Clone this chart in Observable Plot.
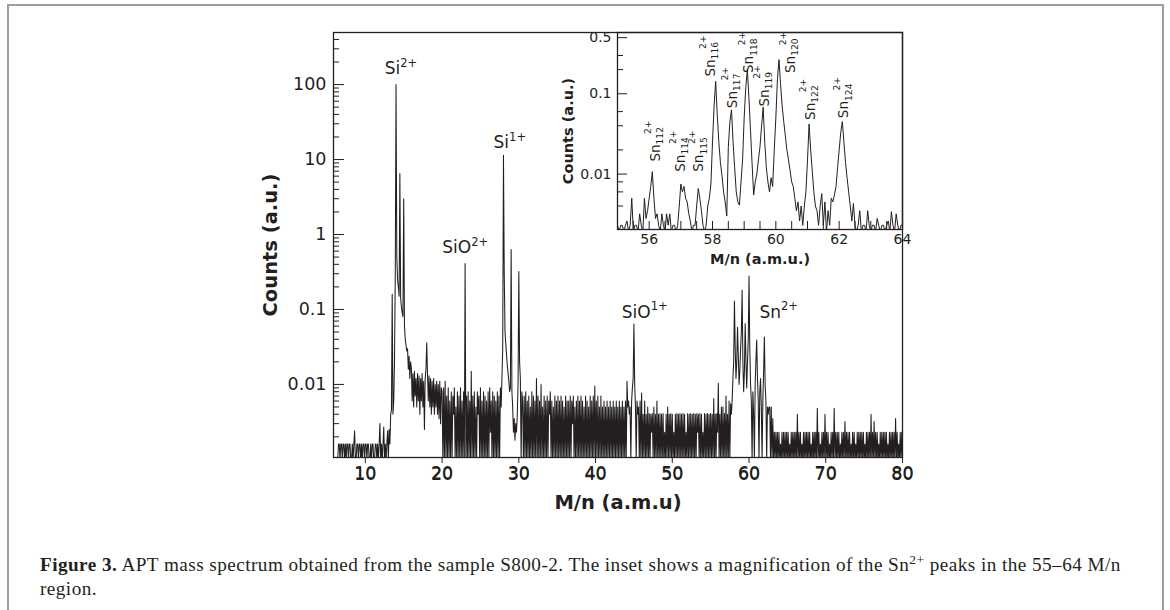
<!DOCTYPE html>
<html>
<head>
<meta charset="utf-8">
<script src="https://cdn.jsdelivr.net/npm/d3@7"></script>
<script src="https://cdn.jsdelivr.net/npm/@observablehq/plot@0.6"></script>
<style>
  html, body { margin: 0; padding: 0; background: #fff; width: 1170px; height: 610px; overflow: hidden; }
  #border { position: absolute; left: 7px; top: 4px; width: 1157px; height: 700px; border: 2px solid #9d9d9d; box-sizing: border-box; }
  #main { position: absolute; left: 0; top: 0; }
  #inset { position: absolute; left: 540px; top: 0; }
  #caption { position: absolute; left: 40px; top: 553px; font-family: "Liberation Serif", "DejaVu Serif", serif; font-size: 19.2px; letter-spacing: 0.45px; line-height: 24px; color: #231f20; white-space: nowrap; }
  #caption .sup { font-size: 0.7em; vertical-align: 0.55em; line-height: 0; }
</style>
</head>
<body>
<div id="border"></div>
<div id="main"></div>
<div id="inset"></div>
<div id="caption"><b>Figure 3.</b> APT mass spectrum obtained from the sample S800-2. The inset shows a magnification of the Sn<span class="sup">2+</span> peaks in the 55–64 M/n<br>region.</div>
<script>
// ---------------- DATA ----------------
// Main spectrum: counts (a.u.) sampled every 0.1 M/n; 0 = empty bin
const MAIN_STEP = 0.1;
const main_from_6_0 = [0,0,0,0,0,
 .0016,.0016,0,.0016,.0016,0,.0016,.0016,0,.0016,0,.0016,.0016,0,.0016,.0016,
 0,0,.0016,0,.0016,.0024,0,0,
 .0016,.0016,0,.0016,.0016,0,.0016,0,.0016,.0016,0,.0016,.0016,0,.0016,.0016,
 0,0,.0016,0,.0016,.0016,0,0,
 .0016,.0016,0,.0016,0,.0016,.003,0,.0016,0,.0016,.0027,0,.0016,
 0,.0016,.0024,0,.0025,.0016,.004,.0045];
const main_from_13_5 = [.16,.004,.006,.02,.3,100,.5,.25,.2,.15,6.5,.14,.11,.09,.08,3.0,.06,.04,.033,.028,.03,.016,.024,.012,.02,
 .016,.006,.014,.005,.015,.007,.012,.005,.014,.006,.013,.004,.012,.006,.014,.005,.011,.0025,.012,.016,
 .036,.014,.006,.013,.005,.012,.004,.011,.005,.012,.004,.01,.005,.011,.004,.01,.0035,.011,.003,.009];
const main_from_20_0 = [
 .008,0,.009,0,.011,0,.007,0,.009,0,
 .006,0,.008,0,.007,.004,.009,0,.005,0,
 .008,0,.007,0,.009,0,.006,0,.008,0,
 .41,0,.007,0,.008,0,.006,0,.015,0,
 .007,0,.008,0,.005,0,.008,.004,.007,0,
 .009,0,.006,0,.008,0,.007,0,.006,0,
 .008,0,.009,.0023,.006,0,.008,0,.007,0,
 .006,0,.008,0,.007,0,.009,.005];
const main_from_27_8 = [.012,.03,11.4,.3,.05,.035,.025,.018,.014,.011,.008,.009,.63,.008,.005,.0023,.0035,.0018,.003,.0023,.004,.01,.32,.02,.012,0,.008];
const main_from_30_5 = [
 .006,0,.007,0,.008,0,.006,0,.007,0,
 .005,0,.008,0,.007,0,.006,0,.012,0,
 .007,0,.006,0,.01,0,.005,0,.007,0,
 .006,0,.007,0,.006,.004,.008,0,.006,0,
 .005,0,.007,0,.006,0,.007,0,.006,0,
 .007,0,.006,0,.005,0,.007,0,.006,0,
 .006,0,.007,0,.006,.003,.007,0,.005,0,
 .006,0,.007,0,.006,0,.007,0,.006,0,
 .005,0,.007,0,.006,0,.005,0,.007,0,
 .006,0,.007,0,.0095,0,.006,0,.007,0,
 .005,0,.007,0,.005,0,.006,0,.005,0,
 .006,0,.005,0,.006,0,.005,0,.006,0,
 .005,0,.006,0,.005,0,.006,0,.005,0,
 .006,0,.005,0,.006,0,.011,.005,.006,.004];
const main_from_44_5 = [.005,0,.006,.009,.012,.064,.01,.005,0,.006,.004];
const main_from_45_6 = [
 .005,0,.006,0,.0077,0,.004,0,.006,0,
 .004,0,.005,0,.0041,0,.004,.0023,.0041,0,
 .005,0,.004,0,.006,0,.004,0,.0041,0,
 .004,0,.0041,0,.0023,0,.004,0,.005,0,
 .004,0,.0041,0,.004,0,.0023,0,.004,0,
 .0041,0,.004,0,.0041,0,.004,0,.0041,0,
 .004,0,.0023,0,.0041,0,.004,0,.0041,0,
 .004,0,.0041,0,.004,0,.0041,.0023,.004,0,
 .0041,0,.004,0,.0023,0,.0041,0,.004,0,
 .0041,0,.004,0,.0041,0,.004,0,.0065,0,
 .004,0,.0041,.0023,.0104,0,.004,0,.005,0,
 .005,0,.0041,0,.007,0,.004,0,.006,0,
 .0055,.004];
const main_from_57_8 = [.006,.012,.02,.13,.03,.012,.02,.058,.025,.01,.015,.03,.05,.18,.02,.008,.015,.065,.02,.009,
 .02,.04,.28,.03,.01,.006,0,.008,.004,0,.01,.021,.039,.012,.006,0,.008,.012,.005,0,
 .006,.015,.043,.01,.006,0,.005,.004,.005];
const main_from_62_7 = [
 .005,0,.005,0,.0035,0,.0023,0,.0023,0,
 .0023,0,.0023,0,.0016,0,.0023,0,.0023,0,
 .0023,0,.0023,0,.0023,0,.0016,0,.0023,0,
 .0023,0,.0023,0,.0023,0,.004,0,.0023,0,
 .0023,0,.0016,0,.0023,0,.0023,0,.0023,0,
 .0023,0,.0023,0,.0016,0,.0023,0,.0023,0,
 .0023,0,.0048,0,.0023,0,.0016,0,.0023,0,
 .0023,0,.004,0,.0023,0,.0023,0,.0016,0,
 .0023,0,.0023,0,.0048,0,.0023,0,.0023,0,
 .0023,0,.0016,0,.0023,0,.0023,0,.0032,0,
 .0023,0,.0023,0,.0023,0,.0016,0,.0023,0,
 .0023,0,.0016,0,.0023,0,.0023,0,.0023,0,
 .0023,0,.0023,0,.0016,0,.0023,0,.0023,0,
 .0023,0,.004,0,.0023,0,.0032,0,.0023,0,
 .0023,0,.0016,0,.0023,0,.0023,0,.0023,0,
 .0023,0,.0023,0,.0016,0,.0023,0,.0023,0,
 .0023,0,.0023,0,.0035,0,.0023,0,.0016,0,
 .0023,0,.0023,0];
const mainSegments = [
  [6.0, main_from_6_0], [13.5, main_from_13_5], [20.0, main_from_20_0], [27.8, main_from_27_8],
  [30.5, main_from_30_5], [44.5, main_from_44_5], [45.6, main_from_45_6], [57.8, main_from_57_8], [62.7, main_from_62_7]
];

// Inset spectrum (Sn2+ region): counts (a.u.) sampled every 0.05 M/n
const INSET_STEP = 0.05;
const inset_from_55 = [.0023,0,.0023,.0023,0,.0023,.0026,0,.0023,.005,0,.0023,.0023,0,.0032,.0023,0,.005,.0028,.0035];
const inset_from_56 = [.005,.007,.0107,.005,.0028,.0032,.0023,0,.0032,.0023,0,.0032,.0023,.0032,0,.0023,.0023,0,.0023,.004];
const inset_from_57 = [.0075,.006,.007,.005,.0045,.0032,.0026,0,.0023,.0023,.004,.0066,.005,.0035,.0023,0,.0023,.004,.005,.0075];
const inset_from_58 = [.025,.07,.143,.055,.025,.014,.0095,.006,.0045,.003,.022,.045,.063,.025,.012,.006,.0045,.0041,.008,.015];
const inset_from_59 = [.05,.12,.2,.09,.035,.0135,.0055,.008,.01,.015,.022,.04,.068,.025,.012,.008,.006,.009,.007,.02];
const inset_from_60 = [.05,.15,.266,.13,.07,.045,.03,.02,.015,.011,.008,.007,.005,.0035,.0045,.0026,.004,.0023,.004,.006];
const inset_from_61 = [.015,.042,.02,.011,.006,.004,.0035,.0023,.004,.0057,.0023,.0045,0,.0035,.0023,.005,.0045,.0055,.007,.012];
const inset_from_62 = [.02,.033,.045,.025,.014,.009,.006,.004,.0026,.0043,.0023,0,.0023,.0035,0,.0023,.0023,0,.0035,.0023];
const inset_from_63 = [0,.0023,.0023,0,.0028,.0023,0,.0023,.0023,0,.0023,.0026,0,.0034,.0023,0,.0032,.0023,0,.0023,.0023];
const insetSegments = [[55, inset_from_55], [56, inset_from_56], [57, inset_from_57], [58, inset_from_58], [59, inset_from_59],
  [60, inset_from_60], [61, inset_from_61], [62, inset_from_62], [63, inset_from_63]];

// Peak labels
const mainLabelText = ["Si^{2+}", "Si^{1+}", "SiO^{2+}", "SiO^{1+}", "Sn^{2+}"];
const mainLabelX = [14.64, 28.83, 23.02, 46.41, 63.87];
const mainLabelY = [164, 16.6, 0.677, 0.092, 0.092];
const insetLabelMass = ["112", "114", "115", "116", "117", "118", "119", "120", "122", "124"];
const insetLabelX = [56.20, 56.99, 57.57, 57.93, 58.63, 59.15, 59.64, 60.46, 61.09, 62.15];
const insetLabelY = [0.0143, 0.0107, 0.0107, 0.164, 0.0662, 0.1815, 0.0695, 0.1815, 0.0473, 0.0497];

// Ticks
const mainXTicks = [10, 20, 30, 40, 50, 60, 70, 80];
const mainYTicks = [0.01, 0.1, 1, 10, 100];
const insetXTicks = [56, 58, 60, 62, 64];
const insetYTicks = [0.01, 0.1, 0.5];
const insetYMinor = [0.004, 0.006, 0.008, 0.02, 0.04, 0.06, 0.2, 0.3];

// ---------------- BUILD ----------------
const INK = "#231f20";
// empty bins are drawn just below each axis floor (and clipped)
function table(segments, step, empty) {
  const rows = [];
  for (const [start, vals] of segments) vals.forEach((v, i) => rows.push({x: +(start + i * step).toFixed(3), y: v > 0 ? v : empty}));
  return rows;
}
const mainData = table(mainSegments, MAIN_STEP, 0.00098);
const insetData = table(insetSegments, INSET_STEP, 0.00192);

const mainYMinor = [];
for (const dec of [0.001, 0.01, 0.1, 1, 10, 100]) for (let k = 2; k <= 9; k++) { const v = +(k * dec).toPrecision(3); if (v > 0.00106 && v < 495) mainYMinor.push(v); }
const insetXMinor = d3.range(55, 64.01, 0.5);

const mainLabels = mainLabelText.map((t, i) => ({t, x: mainLabelX[i], y: mainLabelY[i]}));
const insetLabels = insetLabelMass.map((m, i) => ({t: `Sn_{${m}}^{2+}`, x: insetLabelX[i], y: insetLabelY[i]}));

const mainPlot = Plot.plot({
  width: 1170, height: 520,
  marginLeft: 333, marginRight: 268, marginTop: 32, marginBottom: 63,
  style: {fontFamily: "DejaVu Sans", fontSize: "17.5px", color: INK, background: "transparent", overflow: "visible"},
  x: {domain: [5.85, 80], label: null},
  y: {type: "log", domain: [0.00106, 495], label: null},
  marks: [
    Plot.line(mainData, {x: "x", y: "y", stroke: INK, strokeWidth: 1.05, clip: true}),
    Plot.frame({stroke: INK, strokeWidth: 1.3}),
    Plot.axisY(mainYMinor, {tickSize: 6, dx: 6, tickFormat: () => "", label: null}),
    Plot.axisY(mainYTicks, {tickSize: 11, dx: 11, tickFormat: () => "", label: null}),
    Plot.text(mainYTicks, {y: d => d, text: d => String(d), frameAnchor: "left", textAnchor: "end", dx: -7, fontSize: 17.5, fill: INK}),
    Plot.text(mainXTicks, {x: d => d, text: d => String(d), frameAnchor: "bottom", lineAnchor: "top", dy: 10, fontSize: 17.5, fill: INK}),
    Plot.text(["Counts (a.u.)"], {text: d => d, frameAnchor: "left", textAnchor: "middle", lineAnchor: "middle", dx: -63, rotate: -90, fontSize: 19.5, fontWeight: "bold", fill: INK}),
    Plot.text(["M/n (a.m.u)"], {text: d => d, frameAnchor: "bottom", textAnchor: "middle", lineAnchor: "middle", dy: 45, fontSize: 19.5, fontWeight: "bold", fill: INK}),
    Plot.text(mainLabels, {x: "x", y: "y", text: "t", fontSize: 17, fill: INK})
  ]
});
document.getElementById("main").append(mainPlot);

const insetPlot = Plot.plot({
  width: 380, height: 275,
  marginLeft: 77, marginRight: 18, marginTop: 32, marginBottom: 46,
  style: {fontFamily: "DejaVu Sans", fontSize: "14px", color: INK, background: "transparent", overflow: "visible"},
  x: {domain: [55, 64], label: null},
  y: {type: "log", domain: [0.00204, 0.58], label: null},
  marks: [
    Plot.line(insetData, {x: "x", y: "y", stroke: INK, strokeWidth: 1, clip: true}),
    Plot.frame({stroke: INK, strokeWidth: 1.3}),
    Plot.axisY(insetYMinor, {tickSize: 6, dx: 6, tickFormat: () => "", label: null}),
    Plot.axisY(insetYTicks, {tickSize: 10, dx: 10, tickFormat: () => "", label: null}),
    Plot.text(insetYTicks, {y: d => d, text: d => String(d), frameAnchor: "left", textAnchor: "end", dx: -6, fontSize: 14, fill: INK}),
    Plot.axisX(insetXMinor, {tickSize: 8, dy: -8, tickFormat: () => "", label: null}),
    Plot.text(insetXTicks, {x: d => d, text: d => String(d), frameAnchor: "bottom", lineAnchor: "top", dy: 5, fontSize: 14, fill: INK}),
    Plot.text(["Counts (a.u.)"], {text: d => d, frameAnchor: "left", textAnchor: "middle", lineAnchor: "middle", dx: -49, rotate: -90, fontSize: 14.5, fontWeight: "bold", fill: INK}),
    Plot.text(["M/n (a.m.u.)"], {text: d => d, frameAnchor: "bottom", textAnchor: "middle", lineAnchor: "middle", dy: 30, fontSize: 14.5, fontWeight: "bold", fill: INK}),
    Plot.text(insetLabels, {x: "x", y: "y", text: "t", rotate: -90, textAnchor: "start", fontSize: 13.5, fill: INK})
  ]
});
document.getElementById("inset").append(insetPlot);

// Render "_{sub}" and "^{sup}" markup as real SVG sub/superscripts
function richText(svg) {
  const ns = "http://www.w3.org/2000/svg";
  svg.querySelectorAll("text").forEach(t => {
    const s = t.textContent;
    const m = s.match(/^([^_^]*)(?:_\{([^}]*)\})?(?:\^\{([^}]*)\})?$/);
    if (!m || (!m[2] && !m[3])) return;
    const [, base, sub, sup] = m;
    let dy0 = t.getAttribute("dy");
    const first = t.querySelector("tspan");
    if (first && first.getAttribute("dy")) dy0 = first.getAttribute("dy");
    const fs = parseFloat(getComputedStyle(t).fontSize);
    while (t.firstChild) t.removeChild(t.firstChild);
    if (dy0) t.setAttribute("dy", dy0);
    const mk = (txt, attrs) => { const e = document.createElementNS(ns, "tspan"); e.textContent = txt; for (const k in attrs) e.setAttribute(k, attrs[k]); t.appendChild(e); return e; };
    mk(base, {});
    const small = fs * 0.68;
    if (sub) {
      const e = mk(sub, {"font-size": small, dy: fs * 0.25});
      if (sup) {
        const w = e.getComputedTextLength();
        mk(sup, {"font-size": small, dx: -w * 0.4, dy: -(fs * 0.25 + fs * 0.62)});
      }
    } else if (sup) {
      mk(sup, {"font-size": small, dy: -fs * 0.42});
    }
  });
}
richText(mainPlot);
richText(insetPlot);
</script>
</body>
</html>
